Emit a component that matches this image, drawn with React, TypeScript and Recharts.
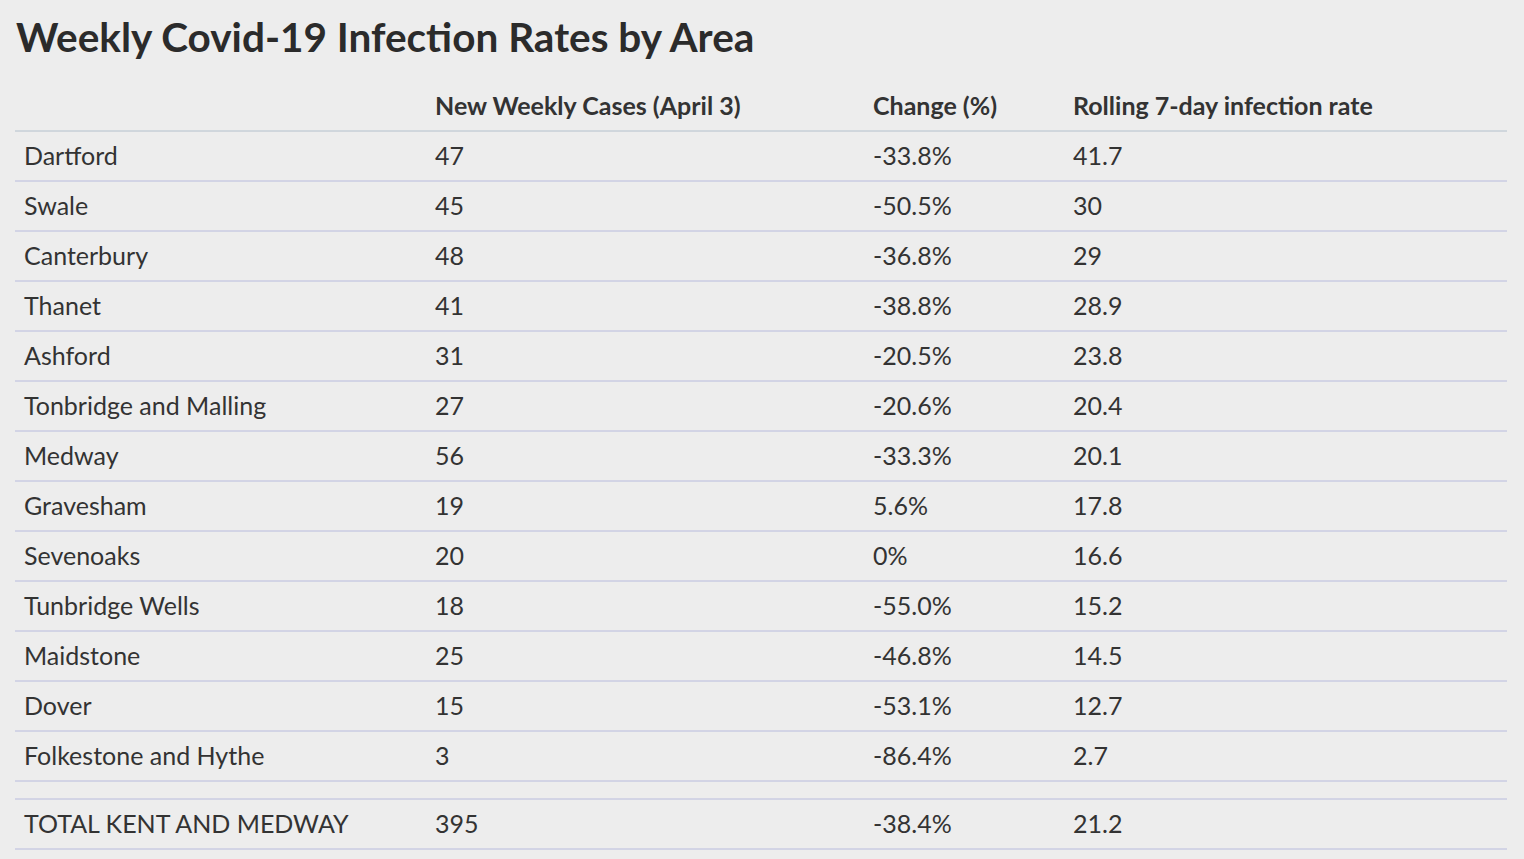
import React from 'react';
import { ScatterChart, Scatter, XAxis, YAxis, ReferenceLine } from 'recharts';

const areas = [
  'Dartford',
  'Swale',
  'Canterbury',
  'Thanet',
  'Ashford',
  'Tonbridge and Malling',
  'Medway',
  'Gravesham',
  'Sevenoaks',
  'Tunbridge Wells',
  'Maidstone',
  'Dover',
  'Folkestone and Hythe',
];
const newCases = [47, 45, 48, 41, 31, 27, 56, 19, 20, 18, 25, 15, 3];
const changes = [
  '-33.8%', '-50.5%', '-36.8%', '-38.8%', '-20.5%', '-20.6%', '-33.3%',
  '5.6%', '0%', '-55.0%', '-46.8%', '-53.1%', '-86.4%',
];
const rollingRates = [41.7, 30, 29, 28.9, 23.8, 20.4, 20.1, 17.8, 16.6, 15.2, 14.5, 12.7, 2.7];
const headers = ['', 'New Weekly Cases (April 3)', 'Change (%)', 'Rolling 7-day infection rate'];

const totalLabel = 'TOTAL KENT AND MEDWAY';
const totalCases = 395;
const totalChange = '-38.4%';
const totalRate = 21.2;

const W = 1524;
const H = 859;
const FONT = 'Lato, "Source Sans Pro", "Noto Sans", sans-serif';
const TEXT = '#333333';
const LINE = '#b8bbdd';
const HEADER_LINE = '#b3c0cc';
const COL_X = [9, 420, 858, 1058]; // offsets from the plot's left edge
const TOTAL_GAP = 0.36; // blank strip above the total row, in rows

const rows = areas.map((a, i) => ({
  col: 0,
  row: i,
  cells: [a, newCases[i], changes[i], rollingRates[i]],
}));
const totalRowPos = areas.length + TOTAL_GAP;
const total = [{ col: 0, row: totalRowPos, cells: [totalLabel, totalCases, totalChange, totalRate] }];
const headerRow = [{ col: 0, row: -1, cells: headers }];

// lines between the rows
const boundaries = [
  ...rows.map((r) => r.row + 0.5),
  totalRowPos - 0.5,
  totalRowPos + 0.5,
];

const CellRow = (props: any) => {
  const { cx, cy, payload, bold } = props;
  return (
    <g>
      {payload.cells.map((c: any, i: number) => (
        <text
          key={i}
          x={cx + COL_X[i]}
          y={cy + 9}
          fill={TEXT}
          fontFamily={FONT}
          fontSize={25}
          fontWeight={bold ? 700 : 400}
        >
          {String(c)}
        </text>
      ))}
    </g>
  );
};

export default function App() {
  return (
    <div style={{ position: 'fixed', left: 0, top: 0, width: W, height: H, background: '#ededed', overflow: 'hidden' }}>
      <div
        style={{
          position: 'absolute',
          left: 16,
          top: 12,
          fontFamily: FONT,
          fontWeight: 700,
          fontSize: 40.5,
          color: '#2b2b2b',
          lineHeight: '50px',
        }}
      >
        Weekly Covid-19 Infection Rates by Area
      </div>
      <ScatterChart width={W} height={H} margin={{ top: 81, right: 17, bottom: 10, left: 15 }}>
        <XAxis type="number" dataKey="col" domain={[0, 1]} hide />
        <YAxis type="number" dataKey="row" domain={[-1.5, totalRowPos + 0.5]} reversed hide />
        <ReferenceLine y={-0.5} stroke={HEADER_LINE} strokeWidth={1} />
        {boundaries.map((b) => (
          <ReferenceLine key={b} y={b} stroke={LINE} strokeWidth={1} />
        ))}
        <Scatter data={headerRow} isAnimationActive={false} shape={(p: any) => <CellRow {...p} bold />} />
        <Scatter data={rows} isAnimationActive={false} shape={(p: any) => <CellRow {...p} />} />
        <Scatter data={total} isAnimationActive={false} shape={(p: any) => <CellRow {...p} />} />
      </ScatterChart>
    </div>
  );
}
